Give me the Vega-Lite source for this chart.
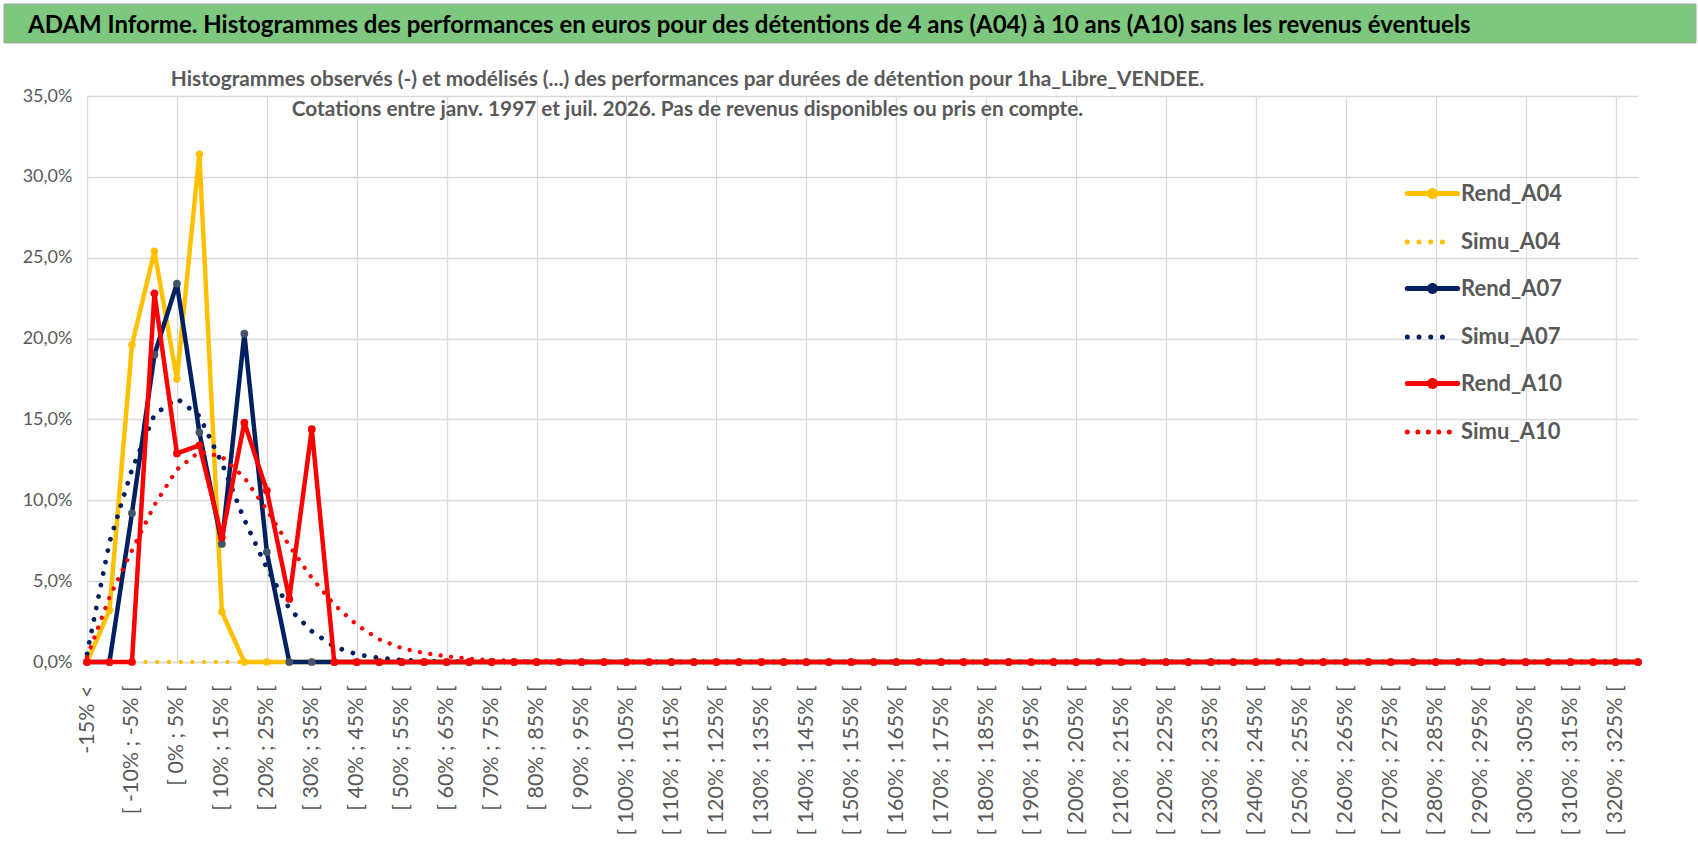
{
  "$schema": "https://vega.github.io/schema/vega-lite/v6.json",
  "description": "ADAM Informe - histogrammes des performances par durée de détention (1ha_Libre_VENDEE).",
  "background": "white",
  "padding": {"left": 3, "top": 3, "right": 3, "bottom": 0},
  "spacing": 25,
  "datasets": {
    "perf": [
      {"classe": "-15% <", "Rend_A04": 0, "Simu_A04": 0, "Rend_A07": 0, "Simu_A07": 0.005, "Rend_A10": 0, "Simu_A10": 0.003},
      {"classe": "[ -15% ; -10% [", "Rend_A04": 0.032, "Simu_A04": 0, "Rend_A07": 0, "Simu_A07": 0.074, "Rend_A10": 0, "Simu_A10": 0.04},
      {"classe": "[ -10% ; -5% [", "Rend_A04": 0.196, "Simu_A04": 0, "Rend_A07": 0.092, "Simu_A07": 0.119, "Rend_A10": 0, "Simu_A10": 0.069},
      {"classe": "[ -5% ; 0% [", "Rend_A04": 0.254, "Simu_A04": 0, "Rend_A07": 0.19, "Simu_A07": 0.153, "Rend_A10": 0.228, "Simu_A10": 0.097},
      {"classe": "[ 0% ; 5% [", "Rend_A04": 0.175, "Simu_A04": 0, "Rend_A07": 0.234, "Simu_A07": 0.163, "Rend_A10": 0.129, "Simu_A10": 0.119},
      {"classe": "[ 5% ; 10% [", "Rend_A04": 0.314, "Simu_A04": 0, "Rend_A07": 0.142, "Simu_A07": 0.152, "Rend_A10": 0.134, "Simu_A10": 0.13},
      {"classe": "[ 10% ; 15% [", "Rend_A04": 0.031, "Simu_A04": 0, "Rend_A07": 0.073, "Simu_A07": 0.123, "Rend_A10": 0.077, "Simu_A10": 0.127},
      {"classe": "[ 15% ; 20% [", "Rend_A04": 0, "Simu_A04": 0, "Rend_A07": 0.203, "Simu_A07": 0.088, "Rend_A10": 0.148, "Simu_A10": 0.114},
      {"classe": "[ 20% ; 25% [", "Rend_A04": 0, "Simu_A04": 0, "Rend_A07": 0.068, "Simu_A07": 0.058, "Rend_A10": 0.106, "Simu_A10": 0.094},
      {"classe": "[ 25% ; 30% [", "Rend_A04": 0, "Simu_A04": 0, "Rend_A07": 0, "Simu_A07": 0.033, "Rend_A10": 0.039, "Simu_A10": 0.072},
      {"classe": "[ 30% ; 35% [", "Rend_A04": 0, "Simu_A04": 0, "Rend_A07": 0, "Simu_A07": 0.019, "Rend_A10": 0.144, "Simu_A10": 0.052},
      {"classe": "[ 35% ; 40% [", "Rend_A04": 0, "Simu_A04": 0, "Rend_A07": 0, "Simu_A07": 0.0095, "Rend_A10": 0, "Simu_A10": 0.0355},
      {"classe": "[ 40% ; 45% [", "Rend_A04": 0, "Simu_A04": 0, "Rend_A07": 0, "Simu_A07": 0.0047, "Rend_A10": 0, "Simu_A10": 0.023},
      {"classe": "[ 45% ; 50% [", "Rend_A04": 0, "Simu_A04": 0, "Rend_A07": 0, "Simu_A07": 0.0025, "Rend_A10": 0, "Simu_A10": 0.014},
      {"classe": "[ 50% ; 55% [", "Rend_A04": 0, "Simu_A04": 0, "Rend_A07": 0, "Simu_A07": 0.0012, "Rend_A10": 0, "Simu_A10": 0.0085},
      {"classe": "[ 55% ; 60% [", "Rend_A04": 0, "Simu_A04": 0, "Rend_A07": 0, "Simu_A07": 0.0005, "Rend_A10": 0, "Simu_A10": 0.0055},
      {"classe": "[ 60% ; 65% [", "Rend_A04": 0, "Simu_A04": 0, "Rend_A07": 0, "Simu_A07": 0.0002, "Rend_A10": 0, "Simu_A10": 0.0035},
      {"classe": "[ 65% ; 70% [", "Rend_A04": 0, "Simu_A04": 0, "Rend_A07": 0, "Simu_A07": 0.0001, "Rend_A10": 0, "Simu_A10": 0.002},
      {"classe": "[ 70% ; 75% [", "Rend_A04": 0, "Simu_A04": 0, "Rend_A07": 0, "Simu_A07": 0, "Rend_A10": 0, "Simu_A10": 0.0012},
      {"classe": "[ 75% ; 80% [", "Rend_A04": 0, "Simu_A04": 0, "Rend_A07": 0, "Simu_A07": 0, "Rend_A10": 0, "Simu_A10": 0.0007},
      {"classe": "[ 80% ; 85% [", "Rend_A04": 0, "Simu_A04": 0, "Rend_A07": 0, "Simu_A07": 0, "Rend_A10": 0, "Simu_A10": 0.0004},
      {"classe": "[ 85% ; 90% [", "Rend_A04": 0, "Simu_A04": 0, "Rend_A07": 0, "Simu_A07": 0, "Rend_A10": 0, "Simu_A10": 0.0002},
      {"classe": "[ 90% ; 95% [", "Rend_A04": 0, "Simu_A04": 0, "Rend_A07": 0, "Simu_A07": 0, "Rend_A10": 0, "Simu_A10": 0.0001},
      {"classe": "[ 95% ; 100% [", "Rend_A04": 0, "Simu_A04": 0, "Rend_A07": 0, "Simu_A07": 0, "Rend_A10": 0, "Simu_A10": 0},
      {"classe": "[ 100% ; 105% [", "Rend_A04": 0, "Simu_A04": 0, "Rend_A07": 0, "Simu_A07": 0, "Rend_A10": 0, "Simu_A10": 0},
      {"classe": "[ 105% ; 110% [", "Rend_A04": 0, "Simu_A04": 0, "Rend_A07": 0, "Simu_A07": 0, "Rend_A10": 0, "Simu_A10": 0},
      {"classe": "[ 110% ; 115% [", "Rend_A04": 0, "Simu_A04": 0, "Rend_A07": 0, "Simu_A07": 0, "Rend_A10": 0, "Simu_A10": 0},
      {"classe": "[ 115% ; 120% [", "Rend_A04": 0, "Simu_A04": 0, "Rend_A07": 0, "Simu_A07": 0, "Rend_A10": 0, "Simu_A10": 0},
      {"classe": "[ 120% ; 125% [", "Rend_A04": 0, "Simu_A04": 0, "Rend_A07": 0, "Simu_A07": 0, "Rend_A10": 0, "Simu_A10": 0},
      {"classe": "[ 125% ; 130% [", "Rend_A04": 0, "Simu_A04": 0, "Rend_A07": 0, "Simu_A07": 0, "Rend_A10": 0, "Simu_A10": 0},
      {"classe": "[ 130% ; 135% [", "Rend_A04": 0, "Simu_A04": 0, "Rend_A07": 0, "Simu_A07": 0, "Rend_A10": 0, "Simu_A10": 0},
      {"classe": "[ 135% ; 140% [", "Rend_A04": 0, "Simu_A04": 0, "Rend_A07": 0, "Simu_A07": 0, "Rend_A10": 0, "Simu_A10": 0},
      {"classe": "[ 140% ; 145% [", "Rend_A04": 0, "Simu_A04": 0, "Rend_A07": 0, "Simu_A07": 0, "Rend_A10": 0, "Simu_A10": 0},
      {"classe": "[ 145% ; 150% [", "Rend_A04": 0, "Simu_A04": 0, "Rend_A07": 0, "Simu_A07": 0, "Rend_A10": 0, "Simu_A10": 0},
      {"classe": "[ 150% ; 155% [", "Rend_A04": 0, "Simu_A04": 0, "Rend_A07": 0, "Simu_A07": 0, "Rend_A10": 0, "Simu_A10": 0},
      {"classe": "[ 155% ; 160% [", "Rend_A04": 0, "Simu_A04": 0, "Rend_A07": 0, "Simu_A07": 0, "Rend_A10": 0, "Simu_A10": 0},
      {"classe": "[ 160% ; 165% [", "Rend_A04": 0, "Simu_A04": 0, "Rend_A07": 0, "Simu_A07": 0, "Rend_A10": 0, "Simu_A10": 0},
      {"classe": "[ 165% ; 170% [", "Rend_A04": 0, "Simu_A04": 0, "Rend_A07": 0, "Simu_A07": 0, "Rend_A10": 0, "Simu_A10": 0},
      {"classe": "[ 170% ; 175% [", "Rend_A04": 0, "Simu_A04": 0, "Rend_A07": 0, "Simu_A07": 0, "Rend_A10": 0, "Simu_A10": 0},
      {"classe": "[ 175% ; 180% [", "Rend_A04": 0, "Simu_A04": 0, "Rend_A07": 0, "Simu_A07": 0, "Rend_A10": 0, "Simu_A10": 0},
      {"classe": "[ 180% ; 185% [", "Rend_A04": 0, "Simu_A04": 0, "Rend_A07": 0, "Simu_A07": 0, "Rend_A10": 0, "Simu_A10": 0},
      {"classe": "[ 185% ; 190% [", "Rend_A04": 0, "Simu_A04": 0, "Rend_A07": 0, "Simu_A07": 0, "Rend_A10": 0, "Simu_A10": 0},
      {"classe": "[ 190% ; 195% [", "Rend_A04": 0, "Simu_A04": 0, "Rend_A07": 0, "Simu_A07": 0, "Rend_A10": 0, "Simu_A10": 0},
      {"classe": "[ 195% ; 200% [", "Rend_A04": 0, "Simu_A04": 0, "Rend_A07": 0, "Simu_A07": 0, "Rend_A10": 0, "Simu_A10": 0},
      {"classe": "[ 200% ; 205% [", "Rend_A04": 0, "Simu_A04": 0, "Rend_A07": 0, "Simu_A07": 0, "Rend_A10": 0, "Simu_A10": 0},
      {"classe": "[ 205% ; 210% [", "Rend_A04": 0, "Simu_A04": 0, "Rend_A07": 0, "Simu_A07": 0, "Rend_A10": 0, "Simu_A10": 0},
      {"classe": "[ 210% ; 215% [", "Rend_A04": 0, "Simu_A04": 0, "Rend_A07": 0, "Simu_A07": 0, "Rend_A10": 0, "Simu_A10": 0},
      {"classe": "[ 215% ; 220% [", "Rend_A04": 0, "Simu_A04": 0, "Rend_A07": 0, "Simu_A07": 0, "Rend_A10": 0, "Simu_A10": 0},
      {"classe": "[ 220% ; 225% [", "Rend_A04": 0, "Simu_A04": 0, "Rend_A07": 0, "Simu_A07": 0, "Rend_A10": 0, "Simu_A10": 0},
      {"classe": "[ 225% ; 230% [", "Rend_A04": 0, "Simu_A04": 0, "Rend_A07": 0, "Simu_A07": 0, "Rend_A10": 0, "Simu_A10": 0},
      {"classe": "[ 230% ; 235% [", "Rend_A04": 0, "Simu_A04": 0, "Rend_A07": 0, "Simu_A07": 0, "Rend_A10": 0, "Simu_A10": 0},
      {"classe": "[ 235% ; 240% [", "Rend_A04": 0, "Simu_A04": 0, "Rend_A07": 0, "Simu_A07": 0, "Rend_A10": 0, "Simu_A10": 0},
      {"classe": "[ 240% ; 245% [", "Rend_A04": 0, "Simu_A04": 0, "Rend_A07": 0, "Simu_A07": 0, "Rend_A10": 0, "Simu_A10": 0},
      {"classe": "[ 245% ; 250% [", "Rend_A04": 0, "Simu_A04": 0, "Rend_A07": 0, "Simu_A07": 0, "Rend_A10": 0, "Simu_A10": 0},
      {"classe": "[ 250% ; 255% [", "Rend_A04": 0, "Simu_A04": 0, "Rend_A07": 0, "Simu_A07": 0, "Rend_A10": 0, "Simu_A10": 0},
      {"classe": "[ 255% ; 260% [", "Rend_A04": 0, "Simu_A04": 0, "Rend_A07": 0, "Simu_A07": 0, "Rend_A10": 0, "Simu_A10": 0},
      {"classe": "[ 260% ; 265% [", "Rend_A04": 0, "Simu_A04": 0, "Rend_A07": 0, "Simu_A07": 0, "Rend_A10": 0, "Simu_A10": 0},
      {"classe": "[ 265% ; 270% [", "Rend_A04": 0, "Simu_A04": 0, "Rend_A07": 0, "Simu_A07": 0, "Rend_A10": 0, "Simu_A10": 0},
      {"classe": "[ 270% ; 275% [", "Rend_A04": 0, "Simu_A04": 0, "Rend_A07": 0, "Simu_A07": 0, "Rend_A10": 0, "Simu_A10": 0},
      {"classe": "[ 275% ; 280% [", "Rend_A04": 0, "Simu_A04": 0, "Rend_A07": 0, "Simu_A07": 0, "Rend_A10": 0, "Simu_A10": 0},
      {"classe": "[ 280% ; 285% [", "Rend_A04": 0, "Simu_A04": 0, "Rend_A07": 0, "Simu_A07": 0, "Rend_A10": 0, "Simu_A10": 0},
      {"classe": "[ 285% ; 290% [", "Rend_A04": 0, "Simu_A04": 0, "Rend_A07": 0, "Simu_A07": 0, "Rend_A10": 0, "Simu_A10": 0},
      {"classe": "[ 290% ; 295% [", "Rend_A04": 0, "Simu_A04": 0, "Rend_A07": 0, "Simu_A07": 0, "Rend_A10": 0, "Simu_A10": 0},
      {"classe": "[ 295% ; 300% [", "Rend_A04": 0, "Simu_A04": 0, "Rend_A07": 0, "Simu_A07": 0, "Rend_A10": 0, "Simu_A10": 0},
      {"classe": "[ 300% ; 305% [", "Rend_A04": 0, "Simu_A04": 0, "Rend_A07": 0, "Simu_A07": 0, "Rend_A10": 0, "Simu_A10": 0},
      {"classe": "[ 305% ; 310% [", "Rend_A04": 0, "Simu_A04": 0, "Rend_A07": 0, "Simu_A07": 0, "Rend_A10": 0, "Simu_A10": 0},
      {"classe": "[ 310% ; 315% [", "Rend_A04": 0, "Simu_A04": 0, "Rend_A07": 0, "Simu_A07": 0, "Rend_A10": 0, "Simu_A10": 0},
      {"classe": "[ 315% ; 320% [", "Rend_A04": 0, "Simu_A04": 0, "Rend_A07": 0, "Simu_A07": 0, "Rend_A10": 0, "Simu_A10": 0},
      {"classe": "[ 320% ; 325% [", "Rend_A04": 0, "Simu_A04": 0, "Rend_A07": 0, "Simu_A07": 0, "Rend_A10": 0, "Simu_A10": 0},
      {"classe": "325% >", "Rend_A04": 0, "Simu_A04": 0, "Rend_A07": 0, "Simu_A07": 0, "Rend_A10": 0, "Simu_A10": 0}
    ]
  },
  "vconcat": [
    {
      "width": 1551,
      "height": 39,
      "data": {"values": [{"titre": "ADAM Informe. Histogrammes des performances en euros pour des détentions de 4 ans (A04) à 10 ans (A10) sans les revenus éventuels"}]},
      "encoding": {
        "x": {"datum": 0, "type": "quantitative", "scale": {"domain": [0, 1], "range": [-83, 1609]}, "axis": null}
      },
      "layer": [
        {
          "mark": {"type": "rect", "color": "#7DC87E", "stroke": "#A6A6A6", "strokeWidth": 1},
          "encoding": {"x2": {"datum": 1}}
        },
        {
          "mark": {"type": "text", "align": "left", "baseline": "middle", "font": "Lato", "fontSize": 24, "fontWeight": "bold", "color": "#000000", "dx": 24, "dy": 2},
          "encoding": {"text": {"field": "titre"}}
        }
      ]
    },
    {
      "width": 1551,
      "height": 566,
      "data": {"name": "perf"},
      "transform": [
        {"fold": ["Rend_A04", "Simu_A04", "Rend_A07", "Simu_A07", "Rend_A10", "Simu_A10"], "as": ["serie", "val"]}
      ],
      "title": {
        "text": [
          "Histogrammes observés (-) et modélisés (...) des performances par durées de détention pour 1ha_Libre_VENDEE.",
          "Cotations entre janv. 1997 et juil. 2026. Pas de revenus disponibles ou pris en compte."
        ],
        "frame": "group",
        "anchor": "middle",
        "dx": -175,
        "offset": -54,
        "baseline": "bottom",
        "font": "Lato",
        "fontSize": 20.8,
        "fontWeight": "bold",
        "color": "#595959",
        "lineHeight": 30,
        "zindex": 1
      },
      "encoding": {
        "x": {
          "field": "classe",
          "type": "ordinal",
          "scale": {
            "type": "point",
            "padding": 0,
            "domain": ["-15% <", "[ -15% ; -10% [", "[ -10% ; -5% [", "[ -5% ; 0% [", "[ 0% ; 5% [", "[ 5% ; 10% [", "[ 10% ; 15% [", "[ 15% ; 20% [", "[ 20% ; 25% [", "[ 25% ; 30% [", "[ 30% ; 35% [", "[ 35% ; 40% [", "[ 40% ; 45% [", "[ 45% ; 50% [", "[ 50% ; 55% [", "[ 55% ; 60% [", "[ 60% ; 65% [", "[ 65% ; 70% [", "[ 70% ; 75% [", "[ 75% ; 80% [", "[ 80% ; 85% [", "[ 85% ; 90% [", "[ 90% ; 95% [", "[ 95% ; 100% [", "[ 100% ; 105% [", "[ 105% ; 110% [", "[ 110% ; 115% [", "[ 115% ; 120% [", "[ 120% ; 125% [", "[ 125% ; 130% [", "[ 130% ; 135% [", "[ 135% ; 140% [", "[ 140% ; 145% [", "[ 145% ; 150% [", "[ 150% ; 155% [", "[ 155% ; 160% [", "[ 160% ; 165% [", "[ 165% ; 170% [", "[ 170% ; 175% [", "[ 175% ; 180% [", "[ 180% ; 185% [", "[ 185% ; 190% [", "[ 190% ; 195% [", "[ 195% ; 200% [", "[ 200% ; 205% [", "[ 205% ; 210% [", "[ 210% ; 215% [", "[ 215% ; 220% [", "[ 220% ; 225% [", "[ 225% ; 230% [", "[ 230% ; 235% [", "[ 235% ; 240% [", "[ 240% ; 245% [", "[ 245% ; 250% [", "[ 250% ; 255% [", "[ 255% ; 260% [", "[ 260% ; 265% [", "[ 265% ; 270% [", "[ 270% ; 275% [", "[ 275% ; 280% [", "[ 280% ; 285% [", "[ 285% ; 290% [", "[ 290% ; 295% [", "[ 295% ; 300% [", "[ 300% ; 305% [", "[ 305% ; 310% [", "[ 310% ; 315% [", "[ 315% ; 320% [", "[ 320% ; 325% [", "325% >"]
          },
          "axis": {
            "title": null,
            "values": ["-15% <", "[ -10% ; -5% [", "[ 0% ; 5% [", "[ 10% ; 15% [", "[ 20% ; 25% [", "[ 30% ; 35% [", "[ 40% ; 45% [", "[ 50% ; 55% [", "[ 60% ; 65% [", "[ 70% ; 75% [", "[ 80% ; 85% [", "[ 90% ; 95% [", "[ 100% ; 105% [", "[ 110% ; 115% [", "[ 120% ; 125% [", "[ 130% ; 135% [", "[ 140% ; 145% [", "[ 150% ; 155% [", "[ 160% ; 165% [", "[ 170% ; 175% [", "[ 180% ; 185% [", "[ 190% ; 195% [", "[ 200% ; 205% [", "[ 210% ; 215% [", "[ 220% ; 225% [", "[ 230% ; 235% [", "[ 240% ; 245% [", "[ 250% ; 255% [", "[ 260% ; 265% [", "[ 270% ; 275% [", "[ 280% ; 285% [", "[ 290% ; 295% [", "[ 300% ; 305% [", "[ 310% ; 315% [", "[ 320% ; 325% ["],
            "labelAngle": -90,
            "labelFontSize": 21.5,
            "labelPadding": 23,
            "labelOverlap": false,
            "labelBound": false,
            "ticks": false,
            "domainColor": "#D9D9D9",
            "domainWidth": 1.3,
            "grid": true,
            "gridColor": "#D9D9D9",
            "gridWidth": 1.3,
            "gridOpacity": {
              "condition": {"test": "datum.value == '-15% <' || test(/^\\[ ([0-9]*[02468])?0% ;/, datum.value)", "value": 1},
              "value": 0
            }
          }
        },
        "y": {
          "field": "val",
          "type": "quantitative",
          "scale": {"domain": [0, 0.35], "nice": false},
          "axis": {
            "title": null,
            "values": [0, 0.05, 0.1, 0.15, 0.2, 0.25, 0.3, 0.35],
            "labelExpr": "replace(format(datum.value, '.1%'), '.', ',')",
            "labelFontSize": 18,
            "labelPadding": 15,
            "minExtent": 83,
            "ticks": false,
            "domain": false,
            "grid": true,
            "gridColor": "#D9D9D9",
            "gridWidth": 1.3
          }
        }
      },
      "layer": [
        {
          "data": {"values": [{"zone": "titre"}]},
          "mark": {"type": "rule", "color": "white", "opacity": 1, "strokeWidth": 34, "strokeCap": "butt", "xOffset": 10, "x2Offset": 27},
          "encoding": {
            "x": {"datum": "[ -5% ; 0% [", "type": "ordinal"},
            "x2": {"datum": "[ 225% ; 230% ["},
            "y": {"datum": 0.3402, "type": "quantitative"}
          }
        },
        {
          "transform": [{"filter": "datum.serie == 'Rend_A04'"}],
          "mark": {"type": "line", "strokeWidth": 4.5, "strokeCap": "round", "strokeJoin": "round"},
          "encoding": {
            "color": {
              "field": "serie",
              "type": "nominal",
              "scale": {
                "domain": ["Rend_A04", "Simu_A04", "Rend_A07", "Simu_A07", "Rend_A10", "Simu_A10"],
                "range": ["#FFC000", "#FFC000", "#002060", "#002060", "#FF0000", "#FF0000"]
              },
              "legend": {
                "title": null,
                "orient": "none",
                "legendX": 1322,
                "legendY": 166,
                "padding": 0,
                "rowPadding": 11.5,
                "symbolSize": 1764,
                "symbolStrokeWidth": 5,
                "labelOffset": 5,
                "labelFont": "Lato",
                "labelFontSize": 22,
                "labelFontWeight": "bold",
                "labelColor": "#595959",
                "encode": {
                  "symbols": {
                    "update": {
                      "shape": {"signal": "substring(datum.value, 0, 4) == 'Rend' ? 'M-1.2,0L1.2,0M0.14,0A0.14,0.14,0,1,1,-0.14,0A0.14,0.14,0,1,1,0.14,0Z' : 'M-1.2,0L0.9,0'"},
                      "strokeCap": {"value": "round"},
                      "fill": {"signal": "datum.value == 'Rend_A07' ? '#44546A' : substring(datum.value, 0, 4) == 'Rend' ? scale('color', datum.value) : 'transparent'"}
                    }
                  }
                }
              }
            },
            "strokeDash": {
              "field": "serie",
              "type": "nominal",
              "scale": {
                "domain": ["Rend_A04", "Simu_A04", "Rend_A07", "Simu_A07", "Rend_A10", "Simu_A10"],
                "range": [[1, 0], [0.01, 11.7], [1, 0], [0.01, 11.7], [1, 0], [0.01, 10.5]]
              }
            }
          }
        },
        {
          "transform": [{"filter": "datum.serie == 'Rend_A04'"}],
          "mark": {"type": "point", "filled": true, "size": 55, "opacity": 1, "color": "#FFC000"}
        },
        {
          "transform": [{"filter": "datum.serie == 'Simu_A04'"}],
          "mark": {"type": "line", "strokeWidth": 4.3, "strokeCap": "round"},
          "encoding": {
            "color": {"field": "serie", "type": "nominal"},
            "strokeDash": {"field": "serie", "type": "nominal"}
          }
        },
        {
          "transform": [{"filter": "datum.serie == 'Rend_A07'"}],
          "mark": {"type": "line", "strokeWidth": 4.5, "strokeCap": "round", "strokeJoin": "round"},
          "encoding": {
            "color": {"field": "serie", "type": "nominal"},
            "strokeDash": {"field": "serie", "type": "nominal"}
          }
        },
        {
          "transform": [{"filter": "datum.serie == 'Rend_A07'"}],
          "mark": {"type": "point", "filled": true, "size": 60, "opacity": 1, "color": "#44546A"}
        },
        {
          "transform": [{"filter": "datum.serie == 'Simu_A07'"}],
          "mark": {"type": "line", "strokeWidth": 4.8, "strokeCap": "round"},
          "encoding": {
            "color": {"field": "serie", "type": "nominal"},
            "strokeDash": {"field": "serie", "type": "nominal"}
          }
        },
        {
          "transform": [{"filter": "datum.serie == 'Rend_A10'"}],
          "mark": {"type": "line", "strokeWidth": 4.5, "strokeCap": "round", "strokeJoin": "round"},
          "encoding": {
            "color": {"field": "serie", "type": "nominal"},
            "strokeDash": {"field": "serie", "type": "nominal"}
          }
        },
        {
          "transform": [{"filter": "datum.serie == 'Rend_A10'"}],
          "mark": {"type": "point", "filled": true, "size": 60, "opacity": 1, "color": "#FF0000"}
        },
        {
          "transform": [{"filter": "datum.serie == 'Simu_A10'"}],
          "mark": {"type": "line", "strokeWidth": 4.3, "strokeCap": "round"},
          "encoding": {
            "color": {"field": "serie", "type": "nominal"},
            "strokeDash": {"field": "serie", "type": "nominal"}
          }
        }
      ]
    }
  ],
  "config": {
    "font": "Lato",
    "view": {"stroke": null},
    "axis": {"labelFont": "Lato", "labelColor": "#595959"}
  }
}
